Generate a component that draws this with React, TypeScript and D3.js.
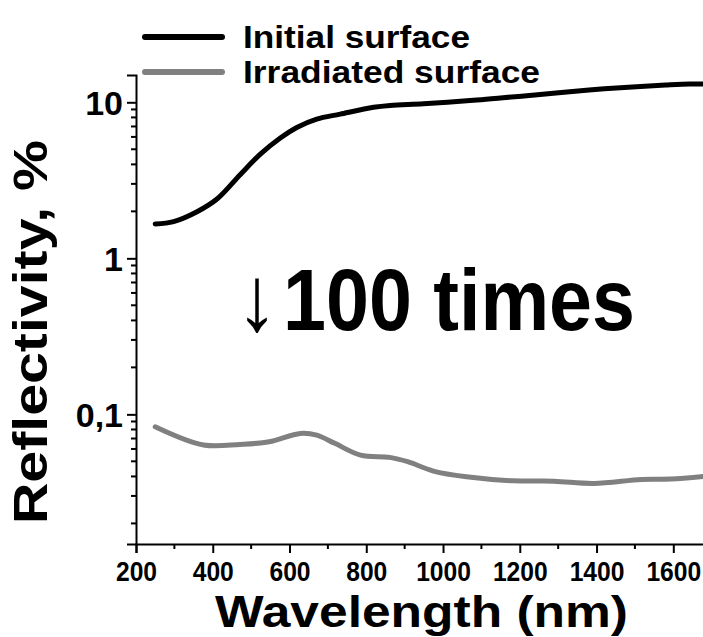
import React, { useEffect, useRef } from 'react'
import * as d3 from 'd3'

// wavelength (nm) and reflectivity (%)
const initialWl = [250, 298, 359, 411, 472, 524, 576, 619, 671, 732, 819, 862, 949, 1079, 1156, 1253, 1330, 1420, 1504, 1580, 1643, 1680]
const initialR = [1.66, 1.72, 1.99, 2.4, 3.45, 4.65, 5.9, 6.9, 7.8, 8.4, 9.29, 9.55, 9.8, 10.3, 10.7, 11.2, 11.7, 12.2, 12.6, 12.9, 13.1, 13.1]

const irradWl = [250, 376, 471, 547, 628, 671, 718, 785, 861, 908, 975, 1061, 1184, 1289, 1393, 1517, 1593, 1680]
const irradR = [0.0833, 0.0636, 0.0642, 0.0667, 0.0755, 0.0736, 0.0652, 0.0548, 0.053, 0.0497, 0.0433, 0.0398, 0.0375, 0.0373, 0.0361, 0.0383, 0.0385, 0.0400]

const xTicks = [200, 400, 600, 800, 1000, 1200, 1400, 1600]
const xMinorTicks = [300, 500, 700, 900, 1100, 1300, 1500]
const yTicks = [0.1, 1, 10]
const yTickLabels = ['0,1', '1', '10']

const seriesNames = ['Initial surface', 'Irradiated surface']
const seriesColors = ['#000000', '#808080']

const FONT = '"Liberation Sans", Arial, sans-serif'

const App: React.FC = () => {
  const svgRef = useRef<SVGSVGElement>(null)

  useEffect(() => {
    if (!svgRef.current) return
    const width = 703
    const height = 637
    const left = 136
    const top = 75
    const bottom = 544
    const yMin = 0.01476
    const yMax = 14.96

    const x = d3.scaleLinear().domain([200, 1680]).range([left, 704])
    const y = d3.scaleLog().domain([yMin, yMax]).range([bottom, top])

    const svg = d3.select(svgRef.current)
    svg.selectAll('*').remove()
    svg.attr('width', width).attr('height', height)

    svg.append('rect').attr('width', width).attr('height', height).attr('fill', '#fff')

    const line = d3
      .line<[number, number]>()
      .x((d) => x(d[0]))
      .y((d) => y(d[1]))
      .curve(d3.curveCatmullRom.alpha(0.5))

    const plot = svg.append('g')
    const series: [number, number][][] = [
      initialWl.map((w, i) => [w, initialR[i]]),
      irradWl.map((w, i) => [w, irradR[i]]),
    ]
    series.forEach((s, i) => {
      plot
        .append('path')
        .attr('d', line(s))
        .attr('fill', 'none')
        .attr('stroke', seriesColors[i])
        .attr('stroke-width', 5)
        .attr('stroke-linecap', 'round')
        .attr('stroke-linejoin', 'round')
    })

    // x axis
    const gx = svg.append('g').attr('transform', `translate(0,${bottom})`)
    gx.call(
      d3
        .axisBottom(x)
        .tickValues(xTicks)
        .tickSize(9)
        .tickPadding(8)
        .tickFormat((d) => String(d)),
    )
    gx.selectAll('.minor')
      .data(xMinorTicks)
      .enter()
      .append('line')
      .attr('class', 'minor')
      .attr('x1', (d) => x(d))
      .attr('x2', (d) => x(d))
      .attr('y1', 0)
      .attr('y2', 5)
    gx.selectAll('text')
      .attr('font-family', FONT)
      .attr('font-weight', 'bold')
      .attr('font-size', 28)
      .attr('fill', '#000')
      .attr('transform', 'scale(0.88,1)')

    // y axis
    const yMinor: number[] = []
    ;[0.01, 0.1, 1, 10].forEach((dec) => {
      for (let k = 2; k <= 9; k++) {
        const v = dec * k
        if (v >= yMin && v <= yMax) yMinor.push(v)
      }
    })
    const gy = svg.append('g').attr('transform', `translate(${left},0)`)
    gy.call(
      d3
        .axisLeft(y)
        .tickValues(yTicks)
        .tickSize(9)
        .tickPadding(4)
        .tickFormat((_, i) => yTickLabels[i]),
    )
    gy.selectAll('.minor')
      .data(yMinor)
      .enter()
      .append('line')
      .attr('class', 'minor')
      .attr('x1', -5)
      .attr('x2', 0)
      .attr('y1', (d) => y(d))
      .attr('y2', (d) => y(d))
    gy.selectAll('text')
      .attr('font-family', FONT)
      .attr('font-weight', 'bold')
      .attr('font-size', 34)
      .attr('fill', '#000')
      .attr('dy', '0.36em')

    svg.selectAll('.domain').attr('stroke', '#000').attr('stroke-width', 2)
    svg.selectAll('g line').attr('stroke', '#000').attr('stroke-width', 2)

    // axis titles
    svg
      .append('text')
      .attr('x', 215)
      .attr('y', 627)
      .attr('font-family', FONT)
      .attr('font-weight', 'bold')
      .attr('font-size', 44)
      .attr('textLength', 413)
      .attr('lengthAdjust', 'spacingAndGlyphs')
      .text('Wavelength (nm)')

    svg
      .append('text')
      .attr('transform', `translate(47,524) rotate(-90)`)
      .attr('font-family', FONT)
      .attr('font-weight', 'bold')
      .attr('font-size', 49)
      .attr('textLength', 384)
      .attr('lengthAdjust', 'spacingAndGlyphs')
      .text('Reflectivity, %')

    // legend
    const legendWidths = [227, 297]
    seriesNames.forEach((name, i) => {
      const ly = 37 + i * 35
      svg
        .append('line')
        .attr('x1', 145)
        .attr('x2', 222)
        .attr('y1', ly)
        .attr('y2', ly)
        .attr('stroke', seriesColors[i])
        .attr('stroke-width', 6)
        .attr('stroke-linecap', 'round')
      svg
        .append('text')
        .attr('x', 243)
        .attr('y', ly + 11)
        .attr('font-family', FONT)
        .attr('font-weight', 'bold')
        .attr('font-size', 31)
        .attr('textLength', legendWidths[i])
        .attr('lengthAdjust', 'spacingAndGlyphs')
        .text(name)
    })

    // annotation
    svg
      .append('text')
      .attr('x', 236)
      .attr('y', 330)
      .attr('font-family', FONT)
      .attr('font-size', 92)
      .attr('textLength', 42)
      .attr('lengthAdjust', 'spacingAndGlyphs')
      .text('↓')
    svg
      .append('text')
      .attr('x', 283)
      .attr('y', 330)
      .attr('font-family', FONT)
      .attr('font-weight', 'bold')
      .attr('font-size', 87)
      .attr('textLength', 352)
      .attr('lengthAdjust', 'spacingAndGlyphs')
      .text('100 times')
  }, [])

  return <svg ref={svgRef} style={{ position: 'absolute', left: 0, top: 0, display: 'block' }} />
}

export default App
